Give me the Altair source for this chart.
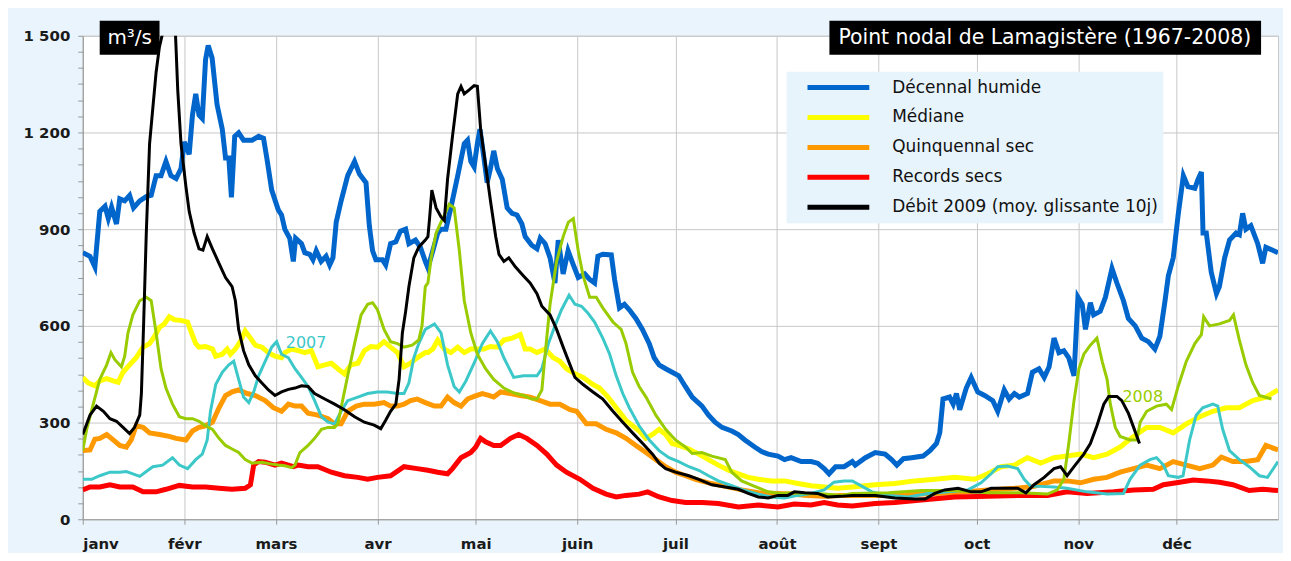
import altair as alt
import pandas as pd

# ---------------- data (day of year, m3/s) ----------------
MONTH_DAYS = [0, 31, 59, 90, 120, 151, 181, 212, 243, 273, 304, 334]
MONTH_LABELS = ["janv", "févr", "mars", "avr", "mai", "juin", "juil", "août", "sept", "oct", "nov", "déc"]
Y_TICKS = list(range(0, 1501, 50))

SERIES = ["Décennal humide", "Médiane", "Quinquennal sec", "Records secs",
          "Débit 2009 (moy. glissante 10j)"]
COLORS = ["#0066CC", "#FFFF00", "#FF9900", "#FF0000", "#000000"]

BLUE_DAY = [0, 2.2, 3.7, 5.2, 6.8, 7.8, 8.8, 10.3, 11.3, 12.8, 14.3, 15.5, 17.4, 19.4, 20.9, 22.4, 23.9, 25.4, 26.9, 28.5,
            30, 31, 32.5, 33.5, 34.5, 35.5, 36.5, 37.5, 38.3, 39.5, 41, 42.6, 43.6, 44.6, 45.4, 46.4, 47.6, 49.1, 51.7, 53.7,
            55.2, 56.2, 57.7, 59.7, 60.7, 61.7, 63.2, 64.3, 65, 66.8, 67.8, 69.3, 70.3, 71.3, 72.8, 74.3, 75.4, 76.4, 77.4,
            78.9, 80.9, 83, 84.5, 86.5, 87.5, 88.5, 89.5, 91.5, 92.5, 94, 95.6, 97, 98.6, 99.6, 101.6, 103.1, 104.6,
            105.4, 106.9, 108.4, 109.4, 110.9, 112.4, 114.5, 116.5, 117.5, 118.5, 119.5, 120.5, 121.3, 122.5, 123.5, 124.5,
            125.5, 126.6, 128.1, 129.6, 131.1, 132.6, 134.1, 135.1, 137.1, 138.7, 139.7, 141.2, 142.7, 144.2, 145.2, 146.7,
            148.2, 149.8, 151.3, 153.3, 154.8, 156.3, 157.3, 158.8, 161.4, 162.4, 163.9, 165.4, 166.9, 168.9, 170.9, 173,
            174.5, 176, 178, 180, 182, 184, 186.1, 189.1, 191.1, 193.1, 195.2, 198.2, 200.2, 202.2, 205.2, 207.3, 209.3,
            212.3, 214.3, 216.3, 219.4, 222.4, 224.4, 226.4, 227.9, 229.9, 232.5, 235,
            235.9, 239, 242, 245, 247, 248.6, 250.6, 253.1, 256.6, 258.7, 260.7, 261.7, 262.7, 264.7, 265.8, 266.8, 267.8,
            269.8, 271.3, 273.3, 275.4, 277.9, 279.4, 281.4, 282.9, 284.5, 286, 288.5, 290, 292, 293.6, 295.1, 296.6, 298.1,
            299.6, 301.1, 302.7, 303.9, 305.2, 306.2, 307.7, 308.7, 310.7, 312.3, 314.3, 315.8, 317.8, 319.3, 321.4, 323.4,
            325.4, 327.4, 328.9, 330.5, 331.5, 333, 334.5, 336.1, 337.5, 339.6, 340.6, 341.6, 342.1, 343.1, 344.6, 346.2,
            347.1, 348.7, 350.2, 352.2, 353.2, 354.2, 355.2, 356.7, 358.8, 360.3, 361.3, 365]
BLUE_VAL = [827, 816, 783, 955, 971, 933, 968, 916, 994, 988, 1005, 966, 988, 1001, 1005, 1066, 1066, 1110, 1066, 1057,
            1088, 1171, 1132, 1254, 1320, 1254, 1243, 1426, 1470, 1431, 1287, 1210, 1121, 1121, 999, 1188, 1199, 1176, 1176,
            1188, 1182, 1121, 1021, 960, 944, 900, 872, 800, 872, 855, 827, 822, 805, 833, 800, 816, 789, 811, 922, 988, 1066,
            1110, 1071, 1044, 911, 833, 805, 805, 789, 855, 861, 894, 900, 855, 866, 844, 800,
            780, 833, 888, 900, 900, 966, 1066, 1165, 1176, 1110, 1093, 1165, 1210, 1121, 1044, 1088, 1143, 1088, 1055, 966,
            949, 944, 916, 877, 850, 839, 872, 855, 811, 733, 866, 761, 833, 789, 750, 761, 744, 733, 816, 822, 820, 744, 656,
            667, 650, 623, 589, 545, 501, 479, 467, 456, 445, 412, 379, 351, 323, 301, 285, 274, 263, 246, 224, 210, 202, 196,
            185, 191, 179, 179, 174, 157, 141, 163, 163, 179,
            168, 191, 207, 202, 185, 168, 188, 191, 196, 213, 235, 268, 373, 379, 357, 390, 340, 407, 440, 395, 384, 368, 335,
            401, 373, 390, 379, 390, 456, 467, 440, 473, 562, 517, 523, 501, 445, 689, 667, 589, 672, 634, 645, 689, 778, 733,
            678, 623, 600, 562, 551, 528, 567, 678, 755, 811, 944, 1066, 1032, 1027, 1055, 1077, 888, 888, 767, 700, 722, 811,
            866, 888, 883, 949, 900, 911, 855, 794, 844, 827]

YELLOW_DAY = [0, 1.7, 3.7, 5.2, 7.3, 9.3, 10.8, 12.3, 14.3, 16.3, 18.4, 20.4, 21.9, 23.4, 24.9, 26.4, 28, 30, 32, 33, 34.5,
              35.5, 37.5, 39.6, 40.6, 42.6, 44.1, 45.1, 46.6, 48.1, 49.6, 51.2, 52.7, 54.7, 56.7, 58.7, 60.7, 61.7, 63.8,
              65.8, 67.8, 69.8, 71.8, 73.9, 75.9, 77.9, 79.9, 81.9, 84, 86, 88, 90, 92, 94, 96.1, 98.1, 100.1, 102.1, 104.6,
              105.4, 106.9, 108.4, 110.4, 112.4, 114.5, 116.5, 118.5, 120.5, 122.5, 124.5, 126.6, 128.6, 131.1, 133.6, 135.1,
              136.6, 138.7, 141.2, 143.7, 145.7, 147.7, 150.3, 152.8, 155.8, 157.8, 160.4, 162.9, 165.9, 167.9, 169.9, 171.9,
              174, 176, 178, 180, 182, 185.1, 188.1, 191.1, 194.1, 197.2, 200.2, 203.2, 206.3, 210.3, 214.3, 218.4, 222.4,
              226.4, 230.5, 235,
              242, 248, 254, 260.2, 266.3, 272.3, 276.4, 280.4, 284.5, 288.5, 292.5, 296.6, 300.6, 304.7, 308.7, 312.8,
              316.8, 320.9, 324.9, 328.9, 333, 337, 341.1, 345.1, 349.2, 353.2, 357.3, 361.3, 365]
YELLOW_VAL = [440, 423, 414, 429, 436, 429, 425, 456, 479, 501, 534, 545, 567, 595, 606, 628, 619, 617, 612, 584, 545, 534,
              536, 528, 506, 512, 528, 512, 528, 551, 584, 562, 540, 534, 517, 506, 501, 517, 528, 523, 517, 523, 473, 479,
              484, 467, 451, 479, 484, 523, 536, 534, 551, 534, 517, 473, 484, 501, 517,
              517, 528, 556, 528, 517, 534, 517, 528, 528, 528, 536, 534, 556, 562, 573, 528, 528, 517, 528, 501, 490, 467,
              451, 440, 418, 407, 379, 346, 307, 290, 274, 251, 263, 279, 263, 235, 229, 218, 202, 185, 168, 152, 141, 130,
              124, 119, 119, 111, 104, 100, 96, 100,
              107, 111, 119, 124, 130, 124, 141, 163, 168, 191, 174, 191, 196, 202, 191, 202, 224, 257, 285, 285, 268, 296,
              318, 335, 346, 346, 368, 379, 401]

ORANGE_DAY = [0, 2.2, 3.7, 5.2, 7.3, 9.3, 11.3, 13.3, 14.8, 16.3, 18.4, 20.4, 23.4, 26.4, 28.5, 31.5, 33.5, 35.5, 37.5,
              39.6, 41.6, 43.6, 45.6, 47.6, 50.2, 52.7, 55.7, 58.2, 60.7, 62.8, 64.8, 66.8, 68.8, 71.8, 74.9, 76.9, 78.9,
              80.9, 83.5, 86, 89, 92, 94, 96.1, 98.1, 100.1, 102.1, 104.6,
              107.4, 109.4, 111.4, 113.4, 115.5, 117.5, 119.5, 122, 124, 125.5, 127.6, 130.6, 133.6, 136.6, 139.7, 142.7,
              145.7, 148.8, 150.8, 153.8, 156.8, 159.8, 162.9, 165.9, 168.9, 172, 175, 178, 181, 184.1, 187.1, 191.1, 196.2,
              201.2, 206.3, 211.3, 216.3, 221.4, 226.4, 231.5,
              246, 256.1, 266.3, 276.4, 284.5, 290.5, 296.6, 300.6, 304.7, 308.7, 312.8, 316.8, 320.9, 324.9, 328.9, 333,
              337, 341.1, 345.1, 347.7, 351.2, 355.2, 358.8, 361.3, 365]
ORANGE_VAL = [213, 215, 248, 251, 263, 246, 229, 224, 246, 290, 285, 268, 263, 257, 251, 246, 274, 285, 290, 301, 346, 384,
              395, 401, 390, 384, 368, 346, 335, 357, 351, 351, 329, 323, 312, 296, 296, 335, 351, 357, 357, 362, 351, 351,
              357, 368, 373, 362,
              351, 351, 379, 362, 351, 373, 381, 390, 384, 379, 395, 390, 384, 379, 368, 357, 357, 340, 335, 296, 296, 279,
              268, 251, 229, 207, 185, 163, 146, 135, 124, 113, 102, 91, 82, 80, 78, 74, 71, 74,
              74, 78, 82, 91, 96, 102, 119, 119, 113, 124, 130, 146, 157, 168, 157, 179, 168, 157, 168, 193, 179, 179, 185,
              229, 215]

RED_DAY = [0, 2.2, 5.2, 8.3, 11.3, 15.3, 18.4, 22.4, 25.4, 29.5, 33.5, 37.5, 41.6, 45.6, 49.6, 51.2, 52.2, 53.7, 55.7,
           58.7, 60.7, 62.8, 64.3, 65.8, 68.8, 71.8, 75.9, 79.9, 84, 87, 90, 94, 98.1, 102.1, 105.4, 108.4, 111.4, 112.9,
           115.5, 118.5, 120, 121.5, 123, 125.5, 127.6, 130.6, 133.1, 135.6, 138.7, 141.7, 144.7, 147.7, 151.8, 155.8,
           159.8, 162.9, 165.9, 169.9, 172.5, 176, 180, 184.1, 189.1, 194.1, 200.2, 206.3, 212.3, 217.3, 222.4, 226.4,
           230.5, 235, 242, 248, 256.1, 266.3, 276.4, 286.5, 294.6, 300.6, 306.7, 314.8, 320.9, 326.9, 330, 335, 339.1,
           343.1, 347.1, 351.2, 356.2, 360.3, 365]
RED_VAL = [91, 100, 100, 107, 100, 100, 85, 85, 93, 105, 100, 100, 96, 93, 96, 107, 168, 179, 177, 168, 174, 168, 163, 168,
           163, 163, 146, 135, 130, 124, 130, 135, 163, 157, 152, 146, 141, 157, 191, 207, 224, 251, 240, 229, 229, 251,
           263, 251, 229, 202, 168, 146, 124, 96, 78, 69, 74, 78, 85, 69, 58, 52, 52, 49, 38, 44, 38, 47, 44, 52, 44, 41,
           49, 52, 60, 69, 71, 74, 74, 85, 80, 85, 91, 93, 107, 115, 122, 119, 115, 107, 89, 93, 89]

BLACK_DAY = [0, 2.2, 4.2, 6.3, 8.3, 10.3, 12.3, 14.3, 15.8, 17.4, 17.9, 18.6, 19.4, 20.4, 21.4, 22.4, 23.4, 24.4, 27.1,
             28.3, 29, 30, 31.5, 32.5, 34, 35.5, 36.7, 38, 39.6, 41.6, 43.6, 45.6, 46.6, 47.6, 49.1, 50.7, 52.7, 54.7,
             56.7, 58.7, 60.7, 62.8, 64.8, 66.8, 68.8, 70.8, 73.9, 76.9, 79.9, 83, 86, 89, 91, 92.5, 94, 95.6, 96.6,
             97.6, 98.6, 99.6, 101.1, 102.6, 104.6,
             105.4, 105.9, 106.6, 107.9, 109.4, 110.4, 111.4, 112.9, 114.5, 115.5, 116.5, 118, 119.5, 120.5, 121.5, 123,
             124.5, 126.1, 127.1, 128.6, 130.1, 132.1, 134.6, 136.6, 138.7, 140.2, 142.7, 144.7, 146.7, 148.8, 150.3,
             152.8, 155.8, 158.8, 161.9, 164.9, 167.9, 171, 174, 176, 178, 181, 185.1, 188.1, 192.1, 196.2, 200.2, 203.2,
             206.3, 209.3, 212.3, 215.3, 217.3, 220.4, 224.4, 227.4, 231.5, 235,
             242, 248, 254, 257.2, 260.2, 263.2, 267.3, 271.3, 274.3, 277.4, 281.4, 285.5, 288, 290.5, 293.6, 296.6,
             298.6, 300.6, 302.7, 305.7, 307.7, 309.7, 311.8, 313.3, 315.8, 317.3, 319.3, 320.9, 322.7]
BLACK_VAL = [263, 323, 351, 335, 312, 304, 285, 266, 285, 323, 390, 612, 888, 1165, 1276, 1387, 1465, 1509, 1740, 1509,
             1332, 1165, 1032, 955, 888, 839, 835, 877, 839, 794, 750, 722, 678, 589, 523, 479, 445, 423, 401, 384, 395,
             403, 407, 414, 412, 390, 373, 357, 340, 318, 301, 292, 281, 307, 335, 357, 434, 578, 645, 722, 811, 844, 866,
             877, 933, 1021, 966, 938, 927, 1055, 1188, 1320, 1343, 1320, 1332, 1345, 1343, 1210, 1099, 988, 877, 822,
             800, 811, 783, 755, 733, 700, 661, 634, 589, 534, 479, 440, 418, 395, 373, 335, 301, 268, 235, 202, 174, 157,
             146, 135, 124, 107, 100, 93, 80, 69, 66, 74, 74, 85, 82, 80, 69, 71, 74,
             74, 66, 63, 63, 80, 91, 96, 85, 85, 96, 96, 96, 82, 107, 130, 157, 163, 135, 163, 202, 235, 290, 357, 381,
             381, 368, 329, 285, 235]

CYAN_DAY = [0, 2.7, 5.2, 8.3, 11.3, 13.3, 15.3, 17.4, 19.4, 21.4, 24.4, 27.4, 29.5, 32, 34.5, 36.5, 38, 39, 40.6, 42.6,
            44.6, 46.1, 47.6, 49.1, 50.7, 52.2, 53.7, 55.7, 57.7, 59.2, 60.7, 62.8, 64.8, 66.8, 68.8, 70.8, 72.9, 74.9,
            76.9, 78.9, 80.9, 84, 87, 90, 93, 96.1, 98.1, 99.6, 101.1, 102.6, 104.6,
            107.4, 109.4, 111.4, 113.4, 115, 117, 119.5, 122, 124.5, 126.6, 128.6, 131.6, 134.6, 138.7, 140.2, 142.2,
            144.2, 146.2, 148.5, 150.3, 152.3, 154.3, 156.3, 158.8, 160.9, 162.9, 164.9, 166.9, 169.9, 173, 176, 179,
            182, 185.1, 188.1, 191.1, 194.1, 198.2, 202.2, 206.3, 210.3, 214.3, 218.4, 222.4, 226.4, 229.4, 232.5, 235,
            238, 241, 246, 252.1, 258.2, 264.2, 270.3, 274.3, 277.4, 279.4, 282.4, 285.5, 287.5, 289.5, 292.5, 296.6,
            300.6, 306.7, 312.8, 317.8, 319.8, 322.9, 325.9, 327.9, 330, 331.5, 334.5, 336, 338, 340, 342, 345.1, 346.6,
            348.1, 350.2, 353.2, 356.2, 359.3, 361.8, 365]
CYAN_VAL = [124, 124, 135, 146, 146, 148, 141, 133, 148, 163, 168, 191, 168, 157, 185, 202, 246, 335, 418, 456, 479, 490,
            434, 379, 362, 395, 445, 490, 534, 551, 512, 501, 467, 440, 412, 368, 318, 301, 296, 335, 368, 379, 390, 395,
            395, 390, 390, 423, 501, 545, 589,
            606, 578, 479, 412, 395, 429, 484, 545, 584, 551, 501, 440, 445, 445, 467, 545, 600, 650, 695, 667, 661, 639,
            612, 562, 512, 445, 390, 346, 290, 246, 213, 191, 179, 163, 152, 135, 119, 104, 89, 78, 69, 66, 74, 80, 91,
            115, 119, 119,
            102, 85, 74, 69, 80, 85, 91, 113, 141, 163, 165, 157, 124, 102, 102, 100, 96, 85, 78, 80, 124, 168, 185, 191,
            168, 135, 130, 135, 246, 323, 346, 357, 351, 279, 213, 185, 163, 135, 130, 179]

GREEN_DAY = [0, 1.2, 3.2, 5.2, 7.3, 8.6, 9.8, 11.8, 12.8, 13.8, 15.3, 17.4, 19.4, 20.9, 22.4, 23.9, 25.4, 27.4, 29.5,
             31.5, 33.5, 35.5, 37.5, 39.6, 41.6, 43.6, 45.6, 47.6, 49.6, 51.7, 54.7, 57.7, 59.7, 61.7, 63.8, 64.8, 66.3,
             68.8, 70.8, 72.9, 74.9, 76.9, 77.9, 78.9, 80.9, 83, 85, 87, 88.5, 90, 92, 94, 96.1, 98.1, 100.6, 102.6,
             103.6, 104.6,
             105.4, 106.4, 107.9, 109.9, 111.9, 113.4, 115, 116.5, 118.5, 120.5, 123, 125.5, 128.6, 131.6, 134.6, 137.1,
             138.7, 140.2, 141.2, 142.7, 144.7, 146.7, 148.3, 149.8, 151.3, 152.8, 154.8, 156.8, 158.8, 161.9, 164.4,
             165.9, 167.9, 169.9, 172, 175, 178, 181, 184.1, 186.1, 189.1, 192.1, 196.2, 198.2, 201.2, 205.2, 209.3,
             213.3, 217.3, 221.4, 226.4, 231.5, 235,
             246, 256.1, 266.3, 276.4, 286.5, 294.6, 297.6, 299.6, 301.1, 302.7, 304.2, 305.7, 307.7, 309.7, 311.3,
             312.8, 313.8, 315.3, 316.8, 319.8, 321.9, 322.9, 324.9, 327.9, 330.9, 332.5, 334.5, 337, 339.6, 341.6,
             342.3, 344.1, 347.1, 350.2, 351.4, 353.2, 355.2, 357.3, 359.3, 363]
GREEN_VAL = [213, 279, 357, 434, 479, 517, 495, 473, 506, 578, 634, 678, 689, 678, 578, 467, 407, 357, 318, 312, 312, 304,
             290, 279, 251, 229, 218, 207, 185, 174, 177, 171, 168, 166, 160, 168, 207, 229, 251, 279, 285, 285, 296, 346,
             445, 545, 634, 667, 672, 650, 589, 551, 545, 534, 540, 556, 600, 722,
             733, 811, 888, 933, 977, 966, 833, 678, 578, 512, 467, 434, 407, 392, 384, 373, 373, 401, 512, 667, 800, 877,
             922, 933, 833, 755, 689, 689, 656, 612, 589, 545, 456, 412, 379, 323, 279, 246, 224, 204, 207, 196, 185, 146,
             119, 102, 85, 80, 82, 80, 78, 74, 80,
             82, 89, 89, 82, 82, 78, 91, 124, 235, 368, 467, 512, 540, 562, 490, 434, 357, 285, 257, 246, 246, 301, 335,
             351, 357, 340, 412, 490, 545, 573, 628, 600, 606, 617, 634, 556, 479, 423, 384, 373]

LABEL_2007 = {"day": [62], "q": [546], "txt": ["2007"]}
LABEL_2008 = {"day": [317.5], "q": [379], "txt": ["2008"]}

# ---------------- tables ----------------
def frame(days, vals, name):
    return pd.DataFrame({"day": days, "q": vals, "serie": name})

stats = pd.concat([frame(BLUE_DAY, BLUE_VAL, SERIES[0]),
                   frame(YELLOW_DAY, YELLOW_VAL, SERIES[1]),
                   frame(ORANGE_DAY, ORANGE_VAL, SERIES[2]),
                   frame(RED_DAY, RED_VAL, SERIES[3])])
black = frame(BLACK_DAY, BLACK_VAL, SERIES[4])
cyan = frame(CYAN_DAY, CYAN_VAL, "2007")
green = frame(GREEN_DAY, GREEN_VAL, "2008")

FONT = "DejaVu Sans"
GRID = "#C8C8C8"

month_expr = "[" + ",".join("'%s'" % m for m in MONTH_LABELS) + "][indexof([" + \
    ",".join(str(d) for d in MONTH_DAYS) + "], datum.value)]"

X = alt.X("day:Q", scale=alt.Scale(domain=[0, 365], nice=False, zero=False),
          axis=alt.Axis(values=MONTH_DAYS, labelExpr=month_expr, title=None, grid=True,
                        gridColor=GRID, tickColor="#999999", tickSize=5, domainColor="#999999",
                        labelFont=FONT, labelFontSize=15, labelFontWeight="bold", labelColor="#1a1a1a",
                        labelPadding=12, labelOverlap=False))
Y = alt.Y("q:Q", scale=alt.Scale(domain=[0, 1500], nice=False, zero=True),
          axis=alt.Axis(values=Y_TICKS, title=None,
                        labelExpr="datum.value % 300 == 0 ? replace(format(datum.value, ','), ',', ' ') : ''",
                        gridOpacity={"condition": {"test": "datum.value % 300 == 0", "value": 1}, "value": 0},
                        gridColor=GRID, tickColor="#999999", tickSize=5, domainColor="#999999",
                        labelFont=FONT, labelFontSize=15, labelFontWeight="bold", labelColor="#1a1a1a",
                        labelPadding=8, labelOverlap=False))

color = alt.Color("serie:N", scale=alt.Scale(domain=SERIES, range=COLORS),
                  legend=alt.Legend(title=None, orient="none", legendX=740, legendY=34,
                                    symbolType="M-2,0H2", symbolSize=961, symbolStrokeWidth=5,
                                    labelFont=FONT, labelFontSize=17, labelColor="#111111",
                                    labelOffset=36, rowPadding=2, padding=0, labelLimit=500))

stat_lines = alt.Chart(stats).mark_line(strokeWidth=5, clip=True).encode(x=X, y=Y, color=color)
cyan_line = alt.Chart(cyan).mark_line(strokeWidth=3, color="#3CC8C8", clip=True).encode(x=X, y=Y)
green_line = alt.Chart(green).mark_line(strokeWidth=3, color="#99CC00", clip=True).encode(x=X, y=Y)
black_line = alt.Chart(black).mark_line(strokeWidth=3, clip=True).encode(x=X, y=Y, color=color)

lab07 = alt.Chart(pd.DataFrame(LABEL_2007)).mark_text(align="left", baseline="middle", font=FONT,
                                                     fontSize=16, color="#3CC8C8").encode(x=X, y=Y, text="txt:N")
lab08 = alt.Chart(pd.DataFrame(LABEL_2008)).mark_text(align="left", baseline="middle", font=FONT,
                                                     fontSize=16, color="#99CC00").encode(x=X, y=Y, text="txt:N")

one = pd.DataFrame({"k": [0]})
legend_box = alt.Chart(one).mark_rect(color="#E8F4FC").encode(
    x=alt.value(706), x2=alt.value(1084), y=alt.value(36), y2=alt.value(188))
title_box = alt.Chart(one).mark_rect(color="black").encode(
    x=alt.value(749), x2=alt.value(1182), y=alt.value(-15), y2=alt.value(19))
title_txt = alt.Chart(one).mark_text(color="white", font=FONT, fontSize=20.5, align="center",
                                     baseline="middle").encode(
    x=alt.value(965), y=alt.value(2), text=alt.value("Point nodal de Lamagistère (1967-2008)"))
unit_box = alt.Chart(one).mark_rect(color="black").encode(
    x=alt.value(17), x2=alt.value(77), y=alt.value(-15), y2=alt.value(19))
unit_txt = alt.Chart(one).mark_text(color="white", font=FONT, fontSize=20, align="center",
                                    baseline="middle").encode(
    x=alt.value(47), y=alt.value(2), text=alt.value("m³/s"))

chart = alt.layer(stat_lines, cyan_line, green_line, black_line, lab07, lab08,
                  legend_box, title_box, title_txt, unit_box, unit_txt).properties(
    width=1199, height=485, background="#E9F4FC",
    padding={"left": 75, "top": 27, "right": 5, "bottom": 33},
    autosize=alt.AutoSizeParams(type="none"),
).configure_view(fill="white", stroke=GRID, strokeWidth=1)

chart.save("out.html", embed_options={"renderer": "svg", "actions": False})
